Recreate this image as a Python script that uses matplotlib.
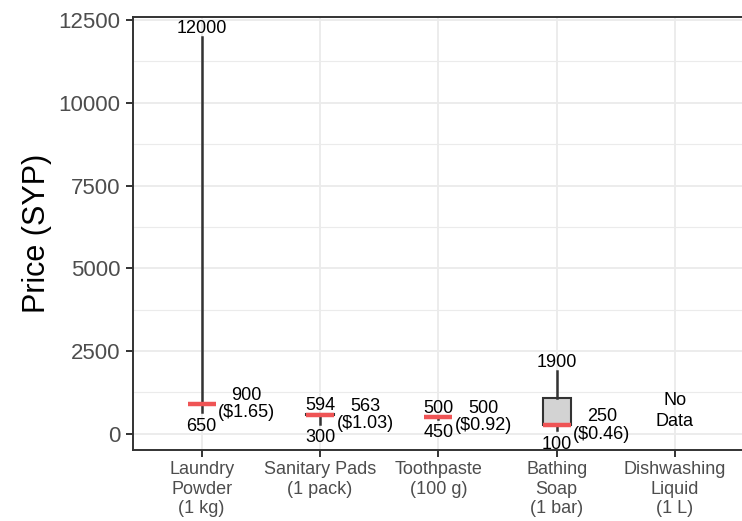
import matplotlib.pyplot as plt
from matplotlib.ticker import MultipleLocator

plt.rcParams['font.family'] = ['Liberation Sans', 'DejaVu Sans']

# Prices in SYP per item (Dishwashing Liquid has no data)
items = ["Laundry\nPowder\n(1 kg)", "Sanitary Pads\n(1 pack)", "Toothpaste\n(100 g)",
         "Bathing\nSoap\n(1 bar)", "Dishwashing\nLiquid\n(1 L)"]
price_min = [650, 300, 450, 100]
price_q1 = [900, 563, 490, 250]
price_median = [900, 563, 500, 250]
price_q3 = [900, 594, 500, 1075]
price_max = [12000, 594, 500, 1900]
median_usd = [1.65, 1.03, 0.92, 0.46]
no_data_y = 680

dark = '#333333'
red = '#ef5455'

fig = plt.figure(figsize=(7.42, 5.21), dpi=100)
ax = fig.add_axes([133 / 742, 71 / 521, 613 / 742, 433 / 521])

stats = []
for i in range(len(price_min)):
    stats.append(dict(med=price_median[i], q1=price_q1[i], q3=price_q3[i],
                      whislo=price_min[i], whishi=price_max[i], fliers=[]))
positions = list(range(1, len(stats) + 1))
ax.bxp(stats, positions=positions, widths=0.235, patch_artist=True, showcaps=False,
       boxprops=dict(facecolor='#d3d3d3', edgecolor=dark, linewidth=1.5),
       whiskerprops=dict(color=dark, linewidth=1.8),
       medianprops=dict(color=red, linewidth=3.2, solid_capstyle='butt', zorder=4))

for i, x in enumerate(positions):
    ax.annotate(f"{price_max[i]}", (x, price_max[i]), xytext=(0, 0), textcoords='offset points',
                ha='center', va='bottom', fontsize=13)
    ax.annotate(f"{price_min[i]}", (x, price_min[i]), xytext=(0, -4), textcoords='offset points',
                ha='center', va='top', fontsize=13)
    ax.annotate(f"{price_median[i]}\n(${median_usd[i]:.2f})", (x + 0.14, price_median[i]),
                ha='left', va='center', multialignment='center', fontsize=13,
                linespacing=1.05)
ax.text(5, no_data_y, "No\nData", ha='center', va='center', fontsize=13,
        multialignment='center', linespacing=1.3)

ax.set_xlim(0.42, 5.6)
ax.set_ylim(-495, 12595)
ax.set_xticks(range(1, len(items) + 1))
ax.set_xticklabels(items, fontsize=13, color='#4d4d4d', linespacing=1.2)
ax.yaxis.set_major_locator(MultipleLocator(2500))
ax.yaxis.set_minor_locator(MultipleLocator(1250))
ax.tick_params(axis='y', which='major', labelsize=16, labelcolor='#4d4d4d', color=dark,
               length=5, width=1.4, pad=4)
ax.tick_params(axis='y', which='minor', length=0)
ax.tick_params(axis='x', color=dark, length=5, width=1.4, pad=3)
ax.set_ylabel("Price (SYP)", fontsize=22, labelpad=5)

ax.grid(True, which='major', color='#ebebeb', linewidth=1.3, zorder=0)
ax.grid(True, which='minor', axis='y', color='#ebebeb', linewidth=0.8, zorder=0)
ax.set_axisbelow(True)
for side in ax.spines.values():
    side.set_color(dark)
    side.set_linewidth(1.4)

fig.savefig('out.png', dpi=100)
